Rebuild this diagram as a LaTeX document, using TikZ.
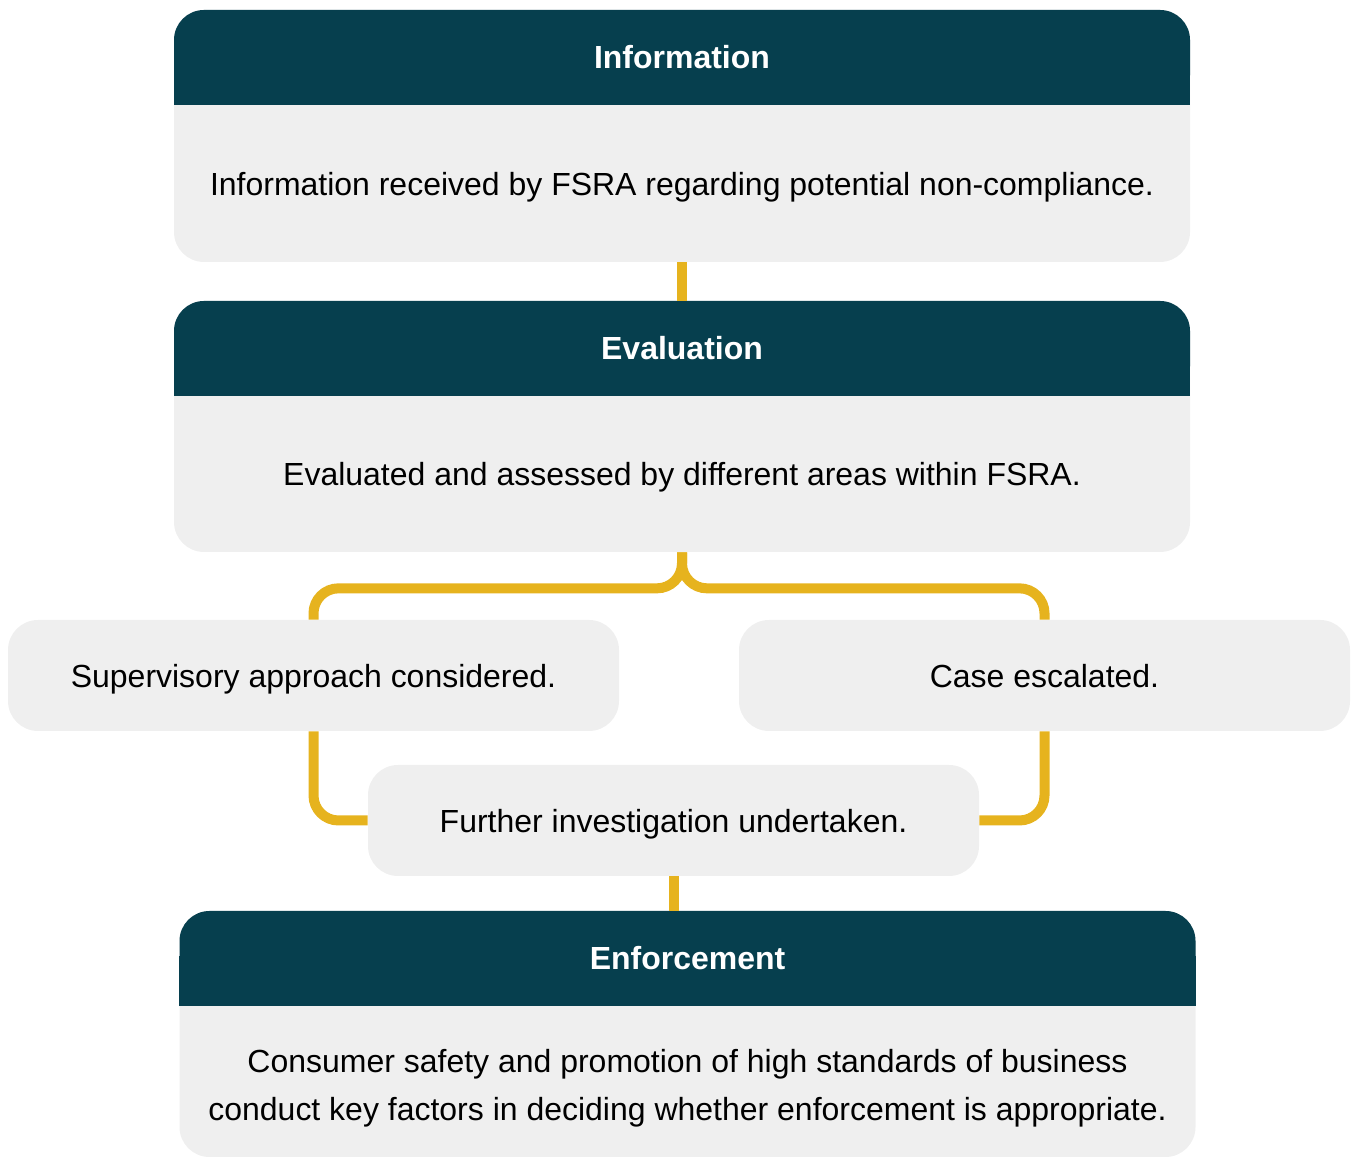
\documentclass[tikz,border=0pt]{standalone}
\usepackage{fontspec}
\setmainfont{Liberation Sans}

\definecolor{fsrateal}{HTML}{063F4E}
\definecolor{cardgrey}{HTML}{EFEFEF}
\definecolor{linkgold}{HTML}{E6B31E}

\begin{document}
\begin{tikzpicture}[
    card/.style={fill=cardgrey, rounded corners=0.6cm, minimum width=20.32cm, inner sep=0pt},
    head/.style={fill=fsrateal, rounded corners=0.6cm, minimum width=20.32cm, minimum height=1.9cm,
        inner sep=0pt, text=white, font=\bfseries\fontsize{18.2}{24}\selectfont},
    bodytext/.style={align=center, text depth=0pt, font=\fontsize{18.2}{27.3}\selectfont},
    smallbox/.style={fill=cardgrey, rounded corners=0.6cm, minimum width=12.22cm, minimum height=2.22cm,
        inner sep=0pt, text depth=0pt, font=\fontsize{18.2}{24}\selectfont},
    link/.style={draw=linkgold, line width=0.2cm, rounded corners=0.5cm}
]
        \useasboundingbox (0,0) rectangle (27.02,23.16);

        % Cards
        \node[card, minimum height=5.04cm] (info) at (13.64,20.44) {};
        \node[card, minimum height=5.02cm] (eval) at (13.64,14.63) {};
        \node[card, minimum height=4.92cm] (enf) at (13.75,2.48) {};

        % Square off the lower edge of each header
        \foreach \c in {info,eval,enf}
            \fill[fsrateal] ([yshift=-0.9cm]\c.north west) rectangle ([yshift=-1.9cm]\c.north east);

        % Headers
        \node[head, anchor=north] (infohead) at (info.north) {Information};
        \node[head, anchor=north] (evalhead) at (eval.north) {Evaluation};
        \node[head, anchor=north] (enfhead) at (enf.north) {Enforcement};

        % Card texts
        \node[bodytext] (infotext) at ([yshift=-0.95cm]info.center)
            {Information received by FSRA regarding potential non-compliance.};
        \node[bodytext] (evaltext) at ([yshift=-0.95cm]eval.center)
            {Evaluated and assessed by different areas within FSRA.};
        \node[bodytext] (enftext) at ([yshift=-1.02cm]enf.center)
            {Consumer safety and promotion of high standards of business\\
             conduct key factors in deciding whether enforcement is appropriate.};

        % Outcomes
        \node[smallbox] (supv) at (6.27,9.65) {Supervisory approach considered.};
        \node[smallbox] (casebox) at (20.89,9.65) {Case escalated.};
        \node[smallbox] (furth) at (13.47,6.75) {Further investigation undertaken.};

        % Connectors
        \draw[link] (info.south) -- (eval.north);
        \coordinate (split) at ([yshift=-0.72cm]eval.south);
        \draw[link] (eval.south) -- (split) -| (supv.north);
        \draw[link] (eval.south) -- (split) -| (casebox.north);
        \draw[link] (supv.south) |- (furth.west);
        \draw[link] (casebox.south) |- (furth.east);
        \draw[link] (furth.south) -- (furth.south |- enf.north);
\end{tikzpicture}
\end{document}
